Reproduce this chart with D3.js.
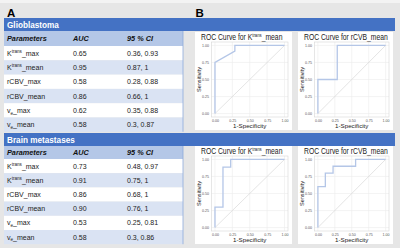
<!DOCTYPE html>
<meta charset="utf-8">
<head>
  <title>ROC table</title>
  <style>
    body { margin: 0; background: #e6e6e6; }
    svg { display: block; font-family: "Liberation Sans", Arial, sans-serif; }
  </style>
  <script src="https://d3js.org/d3.v7.min.js"></script>
</head>
<body>
  <svg width="400" height="248"></svg>
  <script>
    // table data
    var parameters = [
      { base: 'K', sup: 'trans', tail: '_max' },
      { base: 'K', sup: 'trans', tail: '_mean' },
      { base: 'rCBV', tail: '_max' },
      { base: 'rCBV', tail: '_mean' },
      { base: 'v', sub: 'e', tail: '_max' },
      { base: 'v', sub: 'e', tail: '_mean' }
    ];
    var columns = ['Parameters', 'AUC', '95 % CI'];

    var gbmAUC = [0.65, 0.95, 0.58, 0.86, 0.62, 0.58];
    var gbmLow = [0.36, 0.87, 0.28, 0.66, 0.35, 0.3];
    var gbmHigh = [0.93, 1, 0.88, 1, 0.88, 0.87];

    var metAUC = [0.73, 0.91, 0.86, 0.90, 0.53, 0.58];
    var metLow = [0.48, 0.75, 0.68, 0.76, 0.25, 0.3];
    var metHigh = [0.97, 1, 1, 1, 0.81, 0.86];

    // ROC curves (1-specificity, sensitivity)
    var gbmKtransFPR = [0, 0, 0.286, 0.286, 1];
    var gbmKtransTPR = [0, 0.75, 0.917, 1, 1];
    var gbmRcbvFPR = [0, 0, 0.286, 0.286, 1];
    var gbmRcbvTPR = [0, 0.5, 0.5, 1, 1];
    var metKtransFPR = [0, 0, 0.115, 0.115, 0.226, 0.226, 1];
    var metKtransTPR = [0, 0.3, 0.3, 0.887, 0.887, 1, 1];
    var metRcbvFPR = [0, 0, 0.11, 0.11, 0.224, 0.224, 0.557, 0.557, 1];
    var metRcbvTPR = [0, 0.6, 0.6, 0.8, 0.8, 0.9, 0.9, 1, 1];

    var rocTicks = [0, 0.25, 0.5, 0.75, 1];

    var svg = d3.select('svg');
    svg.append('rect').attr('width', 400).attr('height', 248).attr('fill', '#e6e6e6');
    svg.append('rect').attr('width', 400).attr('height', 3).attr('fill', '#f3f3f3');

    svg.append('text').attr('x', 7).attr('y', 16.5).attr('font-size', 11.5)
      .attr('font-weight', 'bold').text('A');
    svg.append('text').attr('x', 195.5).attr('y', 16.5).attr('font-size', 11.5)
      .attr('font-weight', 'bold').text('B');

    function paramLabel(t, p) {
      t.append('tspan').text(p.base);
      if (p.sup) {
        t.append('tspan').attr('font-size', 4.6).attr('dy', -2.6).text(p.sup);
        t.append('tspan').attr('dy', 2.6).text(p.tail);
      } else if (p.sub) {
        t.append('tspan').attr('font-size', 4.6).attr('dy', 1.6).text(p.sub);
        t.append('tspan').attr('dy', -1.6).text(p.tail);
      } else {
        t.append('tspan').text(p.tail);
      }
    }

    var fmt = d3.format('.2f');
    var colX = [7, 73, 127];

    function drawTable(title, y0, bandH, headH, rowH, auc, low, high) {
      var g = svg.append('g');
      g.append('rect').attr('x', 4).attr('y', y0).attr('width', 391).attr('height', bandH)
        .attr('fill', '#4472c4');
      g.append('text').attr('x', 7).attr('y', y0 + bandH / 2 + 3)
        .attr('font-size', 8.2).attr('font-weight', 'bold').attr('fill', '#fff').text(title);

      var hy = y0 + bandH;
      g.append('rect').attr('x', 4).attr('y', hy).attr('width', 179).attr('height', headH)
        .attr('fill', '#b4c7e7');
      g.selectAll('.hd').data(columns).join('text')
        .attr('x', function (d, i) { return colX[i]; })
        .attr('y', hy + headH / 2 + 2.6)
        .attr('font-size', 7.3).attr('font-weight', 'bold').attr('font-style', 'italic')
        .attr('fill', '#111').text(function (d) { return d; });

      var ry = hy + headH;
      var rows = g.selectAll('.row').data(parameters).join('g')
        .attr('transform', function (d, i) { return 'translate(0,' + (ry + i * rowH) + ')'; });
      rows.append('rect').attr('x', 4).attr('width', 179).attr('height', rowH)
        .attr('fill', function (d, i) { return i % 2 ? '#dae3f3' : '#fff'; });
      rows.append('text').attr('x', colX[0]).attr('y', rowH / 2 + 2.6)
        .attr('font-size', 7).attr('fill', '#222')
        .each(function (d) { paramLabel(d3.select(this), d); });
      rows.append('text').attr('x', colX[1]).attr('y', rowH / 2 + 2.6)
        .attr('font-size', 7).attr('fill', '#222')
        .text(function (d, i) { return fmt(auc[i]); });
      rows.append('text').attr('x', colX[2]).attr('y', rowH / 2 + 2.6)
        .attr('font-size', 7).attr('fill', '#222')
        .text(function (d, i) { return low[i] + ', ' + high[i]; });

      g.append('line').attr('x1', 183).attr('x2', 183).attr('y1', hy)
        .attr('y2', ry + parameters.length * rowH).attr('stroke', '#8eaadb').attr('stroke-width', 0.8);
    }

    drawTable('Glioblastoma', 18, 13, 15, 14.3, gbmAUC, gbmLow, gbmHigh);
    drawTable('Brain metastases', 133, 13, 13, 14.2, metAUC, metLow, metHigh);

    function drawRoc(px, py, pw, ph, titleSup, fpr, tpr) {
      var g = svg.append('g').attr('transform', 'translate(' + px + ',' + py + ')');
      g.append('rect').attr('width', pw).attr('height', ph).attr('fill', '#fff');

      // title is narrow in the source, so squeeze it horizontally
      var t = g.append('text').attr('transform', 'translate(6,8.3) scale(0.81,1)')
        .attr('font-size', 8.4).attr('fill', '#222');
      t.append('tspan').text('ROC Curve for ');
      if (titleSup) {
        t.append('tspan').text('K');
        t.append('tspan').attr('font-size', 5.2).attr('dy', -3).text('trans');
        t.append('tspan').attr('dy', 3).text('_mean');
      } else {
        t.append('tspan').text('rCVB_mean');
      }

      var left = 16.5, right = pw - 4, top = 10, bottom = 85;
      var x = d3.scaleLinear().domain([-0.05, 1.05]).range([left, right]);
      var y = d3.scaleLinear().domain([-0.05, 1.05]).range([bottom, top]);

      g.append('g').selectAll('line.gx').data(rocTicks).join('line')
        .attr('x1', function (d) { return x(d); }).attr('x2', function (d) { return x(d); })
        .attr('y1', top).attr('y2', bottom).attr('stroke', '#ececec').attr('stroke-width', 0.6);
      g.append('g').selectAll('line.gy').data(rocTicks).join('line')
        .attr('y1', function (d) { return y(d); }).attr('y2', function (d) { return y(d); })
        .attr('x1', left).attr('x2', right).attr('stroke', '#ececec').attr('stroke-width', 0.6);
      g.append('rect').attr('x', left).attr('y', top).attr('width', right - left)
        .attr('height', bottom - top).attr('fill', 'none').attr('stroke', '#d6d6d6').attr('stroke-width', 0.6);

      var xAxis = d3.axisBottom(x).tickValues(rocTicks).tickFormat(fmt).tickSize(0).tickPadding(2.5);
      var yAxis = d3.axisLeft(y).tickValues(rocTicks).tickFormat(fmt).tickSize(0).tickPadding(2.5);
      var ax = g.append('g').attr('transform', 'translate(0,' + bottom + ')').call(xAxis);
      var ay = g.append('g').attr('transform', 'translate(' + left + ',0)').call(yAxis);
      [ax, ay].forEach(function (a) {
        a.select('.domain').remove();
        a.selectAll('text').attr('font-size', 3.6).attr('fill', '#555')
          .attr('font-family', '"Liberation Sans", Arial, sans-serif');
      });

      g.append('text').attr('x', (left + right) / 2).attr('y', bottom + 11)
        .attr('text-anchor', 'middle').attr('font-size', 6.2).attr('fill', '#222').text('1-Specificity');
      g.append('text').attr('transform', 'translate(5.5,' + (top + bottom) / 2 + ') rotate(-90)')
        .attr('text-anchor', 'middle').attr('font-size', 5.6).attr('fill', '#222').text('Sensitivity');

      g.append('line').attr('x1', x(0)).attr('y1', y(0)).attr('x2', x(1)).attr('y2', y(1))
        .attr('stroke', '#d9d9d9').attr('stroke-width', 0.7);

      var pts = d3.zip(fpr, tpr);
      g.append('path').datum(pts)
        .attr('d', d3.line().x(function (d) { return x(d[0]); }).y(function (d) { return y(d[1]); }))
        .attr('fill', 'none').attr('stroke', '#b4c6e7').attr('stroke-width', 1.3);
    }

    drawRoc(195, 32, 97, 98, true, gbmKtransFPR, gbmKtransTPR);
    drawRoc(298, 32, 95, 98, false, gbmRcbvFPR, gbmRcbvTPR);
    drawRoc(195, 146, 97, 98, true, metKtransFPR, metKtransTPR);
    drawRoc(298, 146, 95, 98, false, metRcbvFPR, metRcbvTPR);
  </script>
</body>
